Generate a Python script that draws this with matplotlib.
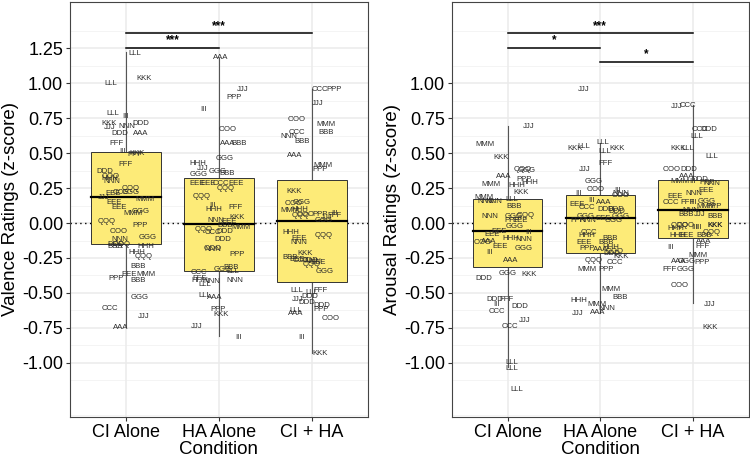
import matplotlib
matplotlib.use("Agg")
import matplotlib.pyplot as plt
import numpy as np

plt.rcParams['font.family'] = ['Liberation Sans', 'DejaVu Sans']

conditions = ["CI Alone", "HA Alone", "CI + HA"]

# ---- Box statistics (whisker low, q1, median, q3, whisker high) ----
val_box_lo = [-0.74, -0.81, -0.93]
val_box_q1 = [-0.152, -0.34, -0.42]
val_box_med = [0.188, -0.007, 0.012]
val_box_q3 = [0.51, 0.324, 0.305]
val_box_hi = [1.22, 1.18, 0.955]

aro_box_lo = [-1.03, -0.64, -0.57]
aro_box_q1 = [-0.312, -0.217, -0.11]
aro_box_med = [-0.057, 0.034, 0.093]
aro_box_q3 = [0.169, 0.20, 0.305]
aro_box_hi = [0.69, 0.575, 0.84]

# ---- Participant labels (text, horizontal jitter, rating) ----
val_ci_lab = "LLL KKK LLL LLL III KKK NNN DDD JJJ DDD AAA FFF III KKK PPP FFF DDD OOO HHH NNN QQQ EEE CCC GGG JJJ MMM EEE EEE MMM GGG QQQ PPP OOO NNN GGG BBB DDD QQQ HHH HHH QQQ BBB EEE MMM PPP BBB GGG CCC JJJ AAA".split()
val_ci_dx = [0.10, 0.19, -0.16, -0.14, 0.0, -0.18, 0.01, 0.16, -0.17, -0.07, 0.16, -0.10, -0.04, 0.12, 0.10, 0.0, -0.23, -0.16, -0.17, -0.15, 0.05, -0.14, -0.05, 0.05, -0.24, 0.20, -0.13, -0.07, 0.08, 0.16, -0.21, 0.15, -0.08, -0.06, 0.23, -0.12, -0.11, -0.05, 0.215, 0.12, 0.19, 0.13, 0.03, 0.22, -0.11, 0.13, 0.15, -0.17, 0.19, -0.06]
val_ci_y = [1.21, 1.03, 1.0, 0.78, 0.76, 0.71, 0.69, 0.71, 0.68, 0.64, 0.64, 0.57, 0.51, 0.50, 0.49, 0.42, 0.37, 0.33, 0.32, 0.295, 0.245, 0.21, 0.215, 0.22, 0.18, 0.17, 0.15, 0.11, 0.065, 0.08, 0.01, -0.015, -0.06, -0.115, -0.10, -0.165, -0.155, -0.155, -0.165, -0.21, -0.24, -0.31, -0.365, -0.365, -0.395, -0.41, -0.53, -0.61, -0.67, -0.75]

val_ha_lab = "AAA JJJ PPP III OOO AAA BBB GGG HHH JJJ GGG GGG BBB EEE EEE CCC EEE QQQ QQQ FFF III HHH KKK NNN EEE BBB MMM QQQ CCC DDD DDD OOO NNN PPP BBB GGG LLL CCC FFF HHH NNN LLL NNN LLL AAA PPP KKK JJJ III".split()
val_ha_dx = [0.02, 0.25, 0.165, -0.17, 0.09, 0.09, 0.22, 0.06, -0.23, -0.18, -0.22, -0.01, 0.09, -0.24, -0.12, 0.02, 0.18, 0.075, -0.19, 0.18, -0.07, -0.06, 0.195, -0.03, 0.11, 0.06, 0.24, -0.16, -0.07, 0.06, 0.04, -0.07, -0.07, 0.195, 0.13, 0.04, 0.15, -0.22, -0.21, -0.21, -0.08, -0.15, 0.165, -0.15, -0.05, -0.01, 0.02, -0.24, 0.21]
val_ha_y = [1.18, 0.955, 0.895, 0.81, 0.67, 0.57, 0.57, 0.46, 0.425, 0.39, 0.35, 0.365, 0.355, 0.28, 0.28, 0.285, 0.28, 0.25, 0.19, 0.11, 0.125, 0.10, 0.04, 0.016, 0.01, -0.02, -0.03, -0.045, -0.07, -0.06, -0.12, -0.18, -0.19, -0.225, -0.32, -0.335, -0.35, -0.355, -0.40, -0.41, -0.415, -0.44, -0.41, -0.52, -0.53, -0.615, -0.655, -0.74, -0.815]

val_cb_lab = "CCC PPP JJJ OOO MMM BBB CCC NNN BBB AAA MMM PPP KKK GGG OOO MMM HHH OOO QQQ PPP III FFF GGG JJJ HHH QQQ EEE NNN KKK BBB EEE CCC NNN EEE DDD QQQ GGG LLL FFF LLL DDD JJJ DDD DDD PPP LLL AAA OOO III KKK".split()
val_cb_dx = [0.08, 0.24, 0.06, -0.17, 0.15, 0.15, -0.16, -0.255, -0.11, -0.19, 0.115, 0.09, -0.19, -0.11, -0.20, -0.24, -0.13, -0.075, -0.12, 0.085, 0.24, 0.24, 0.12, 0.16, -0.23, 0.12, -0.14, -0.14, -0.075, -0.24, -0.16, -0.12, 0.01, 0.06, -0.03, -0.01, 0.13, -0.17, 0.085, 0.0, -0.03, -0.16, -0.06, 0.10, 0.10, -0.18, -0.18, 0.20, -0.12, 0.085]
val_cb_y = [0.955, 0.955, 0.855, 0.74, 0.705, 0.645, 0.65, 0.62, 0.58, 0.48, 0.41, 0.38, 0.225, 0.145, 0.14, 0.09, 0.10, 0.06, 0.055, 0.06, 0.07, 0.055, 0.02, 0.04, -0.07, -0.09, -0.11, -0.14, -0.22, -0.245, -0.26, -0.27, -0.275, -0.28, -0.27, -0.30, -0.35, -0.485, -0.48, -0.50, -0.525, -0.545, -0.57, -0.59, -0.62, -0.625, -0.65, -0.68, -0.815, -0.93]

aro_ci_lab = "JJJ MMM KKK AAA QQQ GGG MMM HHH PPP HHH KKK MMM NNN NNN LLL BBB NNN QQQ GGG PPP EEE GGG EEE EEE HHH NNN III OOO AAA EEE GGG III AAA DDD GGG KKK DDD FFF III DDD CCC JJJ CCC LLL LLL LLL".split()
aro_ci_dx = [0.23, -0.24, -0.07, -0.04, 0.165, 0.20, -0.18, 0.10, 0.18, 0.24, 0.14, -0.255, -0.23, -0.15, 0.05, 0.065, -0.19, 0.195, 0.07, 0.045, 0.13, 0.075, -0.095, -0.165, 0.04, 0.18, 0.23, -0.27, -0.20, -0.08, 0.17, -0.20, 0.03, -0.26, 0.0, 0.23, -0.14, -0.015, -0.12, 0.13, -0.12, 0.18, 0.025, 0.05, 0.05, 0.10]
aro_ci_y = [0.69, 0.56, 0.47, 0.33, 0.38, 0.375, 0.275, 0.27, 0.31, 0.29, 0.22, 0.18, 0.155, 0.155, 0.17, 0.12, 0.045, 0.057, 0.045, 0.02, 0.02, -0.025, -0.06, -0.085, -0.11, -0.115, -0.07, -0.14, -0.13, -0.17, -0.18, -0.21, -0.27, -0.40, -0.36, -0.37, -0.55, -0.55, -0.585, -0.60, -0.635, -0.70, -0.74, -1.0, -1.04, -1.19]

aro_ha_lab = "JJJ KKK LLL LLL LLL KKK FFF JJJ GGG OOO III NNN OOO III EEE III AAA CCC DDD DDD DDD GGG GGG FFF NNN EEE GGG CCC HHH BBB EEE BBB PPP AAA HHH OOO KKK DDD QQQ CCC MMM PPP MMM BBB HHH MMM NNN JJJ AAA".split()
aro_ha_dx = [-0.18, -0.27, -0.18, 0.025, 0.045, 0.18, 0.06, -0.17, -0.07, -0.055, 0.19, 0.22, 0.22, -0.235, -0.25, -0.10, 0.035, -0.14, 0.055, 0.17, 0.18, -0.16, 0.22, -0.25, -0.13, 0.035, 0.14, -0.125, -0.145, 0.11, -0.17, 0.06, -0.145, 0.0, 0.11, 0.15, 0.22, 0.13, -0.07, 0.16, -0.14, 0.06, 0.12, 0.215, -0.235, -0.04, 0.07, -0.245, -0.025]
aro_ha_y = [0.955, 0.535, 0.545, 0.575, 0.51, 0.535, 0.425, 0.385, 0.295, 0.24, 0.235, 0.21, 0.20, 0.21, 0.135, 0.16, 0.15, 0.11, 0.095, 0.10, 0.085, 0.045, 0.048, 0.02, 0.02, 0.03, 0.02, -0.07, -0.09, -0.11, -0.14, -0.14, -0.18, -0.19, -0.175, -0.20, -0.24, -0.22, -0.27, -0.28, -0.335, -0.335, -0.475, -0.53, -0.555, -0.585, -0.61, -0.645, -0.64]

aro_cb_lab = "JJJ CCC CCC DDD LLL KKK LLL LLL OOO DDD MMM AAA III DDD NNN PPP NNN EEE EEE CCC FFF III GGG MMM PPP NNN BBB JJJ BBB KKK OOO III QQQ III KKK HHH HHH EEE BBB QQQ AAA III FFF MMM AAA GGG PPP FFF GGG OOO JJJ KKK".split()
aro_cb_dx = [-0.18, -0.05, 0.075, 0.175, 0.045, -0.165, -0.06, 0.20, -0.23, -0.04, -0.14, -0.07, 0.0, 0.075, 0.20, 0.15, 0.015, 0.14, -0.195, -0.24, -0.06, 0.01, 0.15, 0.14, 0.23, -0.025, -0.07, 0.07, 0.24, 0.24, -0.08, 0.02, -0.14, 0.06, 0.24, -0.18, -0.16, -0.07, 0.12, 0.20, 0.12, -0.24, 0.10, 0.05, -0.15, -0.07, 0.10, -0.25, -0.08, -0.14, 0.185, 0.185]
aro_cb_y = [0.83, 0.84, 0.67, 0.665, 0.62, 0.535, 0.535, 0.475, 0.385, 0.385, 0.30, 0.33, 0.30, 0.31, 0.28, 0.29, 0.21, 0.23, 0.19, 0.145, 0.15, 0.15, 0.155, 0.12, 0.115, 0.088, 0.06, 0.06, 0.045, -0.02, -0.02, -0.03, -0.02, -0.03, -0.02, -0.04, -0.09, -0.09, -0.09, -0.07, -0.13, -0.175, -0.17, -0.235, -0.275, -0.275, -0.285, -0.33, -0.335, -0.45, -0.58, -0.75]

# ---- Significance brackets: (from, to, stars, height) ----
val_sig_from = [1, 1]
val_sig_to = [2, 3]
val_sig_txt = ["***", "***"]
val_sig_y = [1.25, 1.355]

aro_sig_from = [1, 1, 2]
aro_sig_to = [3, 2, 3]
aro_sig_txt = ["***", "*", "*"]
aro_sig_y = [1.355, 1.25, 1.15]

val_ticks = [1.25, 1.0, 0.75, 0.5, 0.25, 0.0, -0.25, -0.5, -0.75, -1.0]
aro_ticks = [1.0, 0.75, 0.5, 0.25, 0.0, -0.25, -0.5, -0.75, -1.0]

W, H = 750, 461
fig = plt.figure(figsize=(W / 100, H / 100), dpi=100)

def px_ax(x0, x1, ytop, ybot):
    return fig.add_axes([x0 / W, 1 - ybot / H, (x1 - x0) / W, (ybot - ytop) / H])

ax1 = px_ax(70, 368, 2, 417)
ax2 = px_ax(452, 748.5, 2, 417)

BOX_FILL = '#FDEB78'
TXT_COL = '#2b2b2b'

def draw_panel(ax, lo, q1, med, q3, hi, pts, sig_from, sig_to, sig_txt, sig_y, ticks, ylabel):
    ax.set_xlim(0.4, 3.6)
    ax.set_ylim(-1.386, 1.579)
    for t in np.arange(-1.375, 1.5, 0.25):
        ax.axhline(t, color='#F2F2F2', lw=0.6, zorder=0)
    for t in ticks:
        ax.axhline(t, color='#EBEBEB', lw=1.1, zorder=0)
    for xi in [1, 2, 3]:
        ax.axvline(xi, color='#EBEBEB', lw=1.1, zorder=0)
    ax.axhline(0, color='black', lw=1.0, ls=(0, (1, 2.5)), zorder=1)
    w = 0.75
    for i in range(3):
        xc = i + 1
        ax.plot([xc, xc], [q3[i], hi[i]], color='#555555', lw=0.8, zorder=2)
        ax.plot([xc, xc], [lo[i], q1[i]], color='#555555', lw=0.8, zorder=2)
        ax.add_patch(plt.Rectangle((xc - w / 2, q1[i]), w, q3[i] - q1[i],
                                   facecolor=BOX_FILL, edgecolor='#333333', lw=0.7, zorder=2))
        ax.plot([xc - w / 2, xc + w / 2], [med[i], med[i]], color='black', lw=1.6, zorder=3)
    for i, (labs, dxs, ys) in enumerate(pts):
        for l, d, y in zip(labs, dxs, ys):
            ax.text(i + 1 + d, y, l, fontsize=5.6, color=TXT_COL, ha='center', va='center', zorder=4)
    for f, t, s, y in zip(sig_from, sig_to, sig_txt, sig_y):
        ax.plot([f, t], [y, y], color='black', lw=1.1, zorder=5)
        ax.text((f + t) / 2, y + 0.012, s, fontsize=8.5, fontweight='bold', ha='center', va='bottom', zorder=5)
    ax.set_yticks(ticks)
    ax.set_yticklabels([f"{t:.2f}" for t in ticks])
    ax.set_xticks([1, 2, 3])
    ax.set_xticklabels(conditions)
    ax.tick_params(axis='both', labelsize=13, length=3, width=0.8, color='#333333', pad=2, labelcolor='black')
    ax.set_ylabel(ylabel, fontsize=13.5, labelpad=2)
    ax.set_xlabel("Condition", fontsize=13.5, labelpad=0)
    for sp in ax.spines.values():
        sp.set_color('#444444')
        sp.set_linewidth(0.8)

draw_panel(ax1, val_box_lo, val_box_q1, val_box_med, val_box_q3, val_box_hi,
           [(val_ci_lab, val_ci_dx, val_ci_y), (val_ha_lab, val_ha_dx, val_ha_y), (val_cb_lab, val_cb_dx, val_cb_y)],
           val_sig_from, val_sig_to, val_sig_txt, val_sig_y, val_ticks, "Valence Ratings (z-score)")
draw_panel(ax2, aro_box_lo, aro_box_q1, aro_box_med, aro_box_q3, aro_box_hi,
           [(aro_ci_lab, aro_ci_dx, aro_ci_y), (aro_ha_lab, aro_ha_dx, aro_ha_y), (aro_cb_lab, aro_cb_dx, aro_cb_y)],
           aro_sig_from, aro_sig_to, aro_sig_txt, aro_sig_y, aro_ticks, "Arousal Ratings (z-score)")

fig.savefig("out.png", dpi=100)
